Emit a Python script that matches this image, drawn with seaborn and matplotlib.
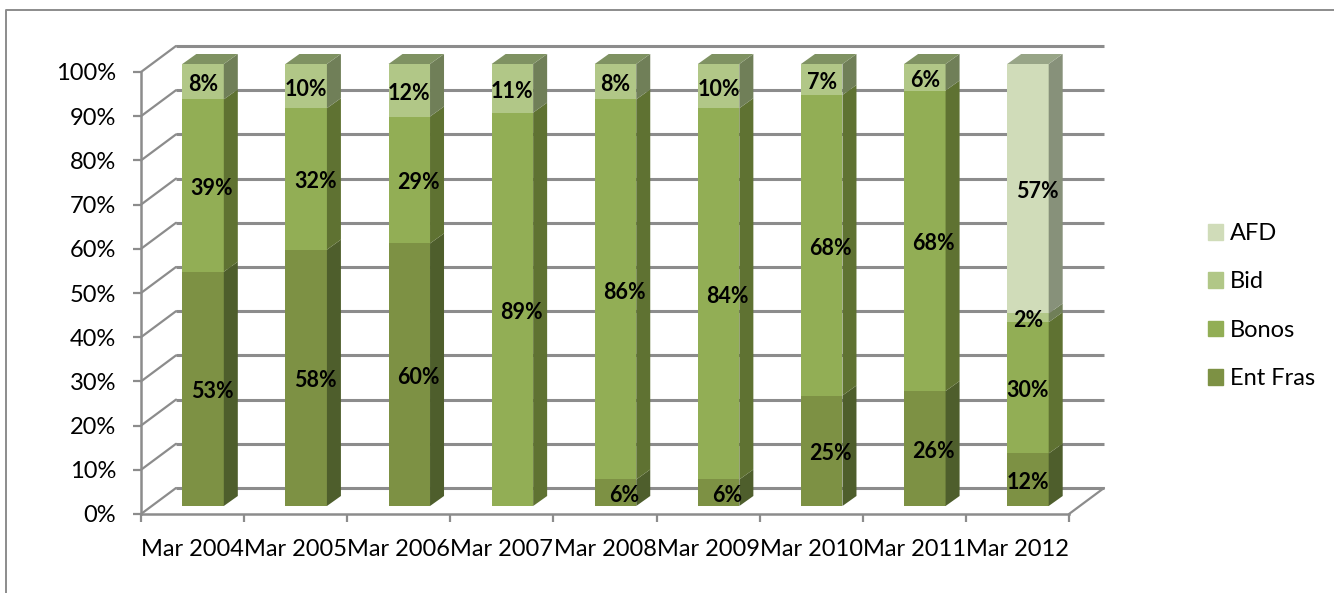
import matplotlib
matplotlib.use("Agg")
import matplotlib.pyplot as plt
from matplotlib.lines import Line2D
from matplotlib.patches import Patch
import numpy as np
import seaborn as sns

months = ["Mar 2004", "Mar 2005", "Mar 2006", "Mar 2007", "Mar 2008",
          "Mar 2009", "Mar 2010", "Mar 2011", "Mar 2012"]
ent_fras = [53, 58, 60, 0, 6, 6, 25, 26, 12]
bonos = [39, 32, 29, 89, 86, 84, 68, 68, 30]
bid = [8, 10, 12, 11, 8, 10, 7, 6, 2]
afd = [0, 0, 0, 0, 0, 0, 0, 0, 57]
series_names = ["Ent Fras", "Bonos", "Bid", "AFD"]

front_colors = ["#7d9144", "#92ae55", "#b1c787", "#d0dcb9"]
side_colors = ["#4e5e2c", "#5f7232", "#707f58", "#87917a"]
top_colors = ["#64753a", "#78904a", "#7f9262", "#98a587"]
GRID = "#8c8c8c"

W, H = 1334, 593
sns.set_theme(style="white")
plt.rcParams["font.family"] = ["Lato", "DejaVu Sans"]

fig = plt.figure(figsize=(W / 100, H / 100), dpi=100, facecolor="white")


def axes_from_pixels(left, right, top, bottom):
    return fig.add_axes([left / W, 1 - bottom / H, (right - left) / W, (bottom - top) / H])


# Front plane of the pseudo-3D box, and the plane the bars stand on
wall = axes_from_pixels(141, 1069, 72, 514)
plane = axes_from_pixels(151.5, 1079.5, 64, 506)
plane.patch.set_alpha(0)

unit_x = 928 / 9
unit_y = 442 / 100
wall_dx, wall_dy = 35 / unit_x, 26 / unit_y
bar_dx, bar_dy = 14 / unit_x, 10 / unit_y
bar_width = 41.5 / unit_x

# Back wall and floor
wall.set_xlim(-0.5, 8.5)
wall.set_ylim(0, 100)
levels = np.arange(0, 101, 10)
for level in levels:
    wall.plot([-0.5 + wall_dx, 8.5 + wall_dx], [level + wall_dy] * 2, color=GRID, lw=2.2,
              clip_on=False, solid_capstyle="butt", zorder=1)
    wall.plot([-0.5, -0.5 + wall_dx], [level, level + wall_dy], color=GRID, lw=1.6,
              clip_on=False, zorder=1)
wall.plot([8.5, 8.5 + wall_dx], [0, wall_dy], color=GRID, lw=1.6, clip_on=False, zorder=1)

for side in ("top", "right"):
    wall.spines[side].set_visible(False)
for side in ("left", "bottom"):
    wall.spines[side].set_color(GRID)
    wall.spines[side].set_linewidth(1.8)
wall.set_yticks(levels, [f"{v}%" for v in levels])
wall.set_xticks(np.arange(-0.5, 9, 1), [""] * 10)
wall.set_xticks(np.arange(9), months, minor=True)
wall.tick_params(axis="y", which="major", length=6, width=1.6, color=GRID, left=True,
                 labelsize=17, labelcolor="black", pad=12)
wall.tick_params(axis="x", which="major", length=6, width=1.6, color=GRID, bottom=True)
wall.tick_params(axis="x", which="minor", length=0, labelsize=17, labelcolor="black", pad=18)

# 100% stacked columns: each column is scaled by its own total
raw = np.array([ent_fras, bonos, bid, afd], dtype=float)
shares = raw / raw.sum(axis=0) * 100
bottoms = np.zeros(len(months))
for i, name in enumerate(series_names):
    sns.barplot(x=months, y=shares[i], bottom=bottoms, color=front_colors[i], saturation=1,
                width=bar_width, linewidth=0, ax=plane, zorder=3)
    for c in range(len(months)):
        if shares[i, c] == 0:
            continue
        x1 = c + bar_width / 2
        y0, y1 = bottoms[c], bottoms[c] + shares[i, c]
        plane.fill([x1, x1 + bar_dx, x1 + bar_dx, x1],
                   [y0, y0 + bar_dy, y1 + bar_dy, y1],
                   color=side_colors[i], lw=0, clip_on=False, zorder=3)
    bottoms = bottoms + shares[i]

# Column lids take the colour of the topmost segment
for c in range(len(months)):
    top_series = max(i for i in range(4) if shares[i, c] > 0)
    x0, x1 = c - bar_width / 2, c + bar_width / 2
    plane.fill([x0, x1, x1 + bar_dx, x0 + bar_dx], [100, 100, 100 + bar_dy, 100 + bar_dy],
               color=top_colors[top_series], lw=0, clip_on=False, zorder=3)

# Value labels
bottoms = np.zeros(len(months))
for i in range(4):
    for c in range(len(months)):
        if raw[i, c] > 0:
            shift = 9 if (i < 2 and c < 8) or i == 3 else 0
            plane.text(c + shift / unit_x, bottoms[c] + shares[i, c] / 2 - 3 / unit_y,
                       f"{raw[i, c]:.0f}%", ha="center", va="center", fontsize=15.5,
                       fontweight="bold", color="black", zorder=5)
    bottoms = bottoms + shares[i]

plane.set_xlim(-0.5, 8.5)
plane.set_ylim(0, 100)
plane.axis("off")

# Legend, newest series first
handles = [Patch(color=front_colors[i], label=series_names[i]) for i in (3, 2, 1, 0)]
fig.legend(handles=handles, loc="center left", bbox_to_anchor=(1208 / W, 1 - 306 / H),
           frameon=False, fontsize=17, handlelength=0.65, handleheight=0.65, handletextpad=0.28,
           labelspacing=1.16, borderpad=0, borderaxespad=0, labelcolor="black")

# Chart-area border, only partly visible at the canvas edge
fig.add_artist(Line2D([6 / W, 6 / W, 1], [0, 1 - 10 / H, 1 - 10 / H], color=GRID, lw=1.4))

fig.savefig("out.png", dpi=100, facecolor="white")
